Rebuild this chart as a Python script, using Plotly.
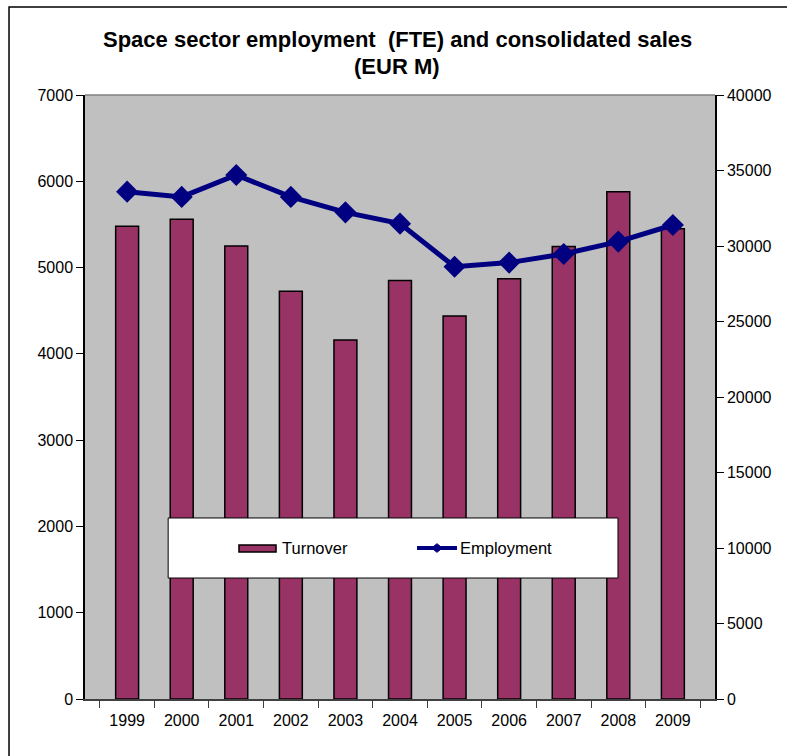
import plotly.graph_objects as go

# Space sector: consolidated sales (EUR M) and employment (FTE), 1999-2009
years = ["1999", "2000", "2001", "2002", "2003", "2004", "2005", "2006", "2007", "2008", "2009"]
turnover = [5480, 5560, 5250, 4725, 4160, 4850, 4440, 4870, 5245, 5880, 5450]
employment = [33600, 33250, 34700, 33250, 32230, 31480, 28630, 28900, 29470, 30290, 31390]

left_ticks = [0, 1000, 2000, 3000, 4000, 5000, 6000, 7000]
right_ticks = [0, 5000, 10000, 15000, 20000, 25000, 30000, 35000, 40000]

title_lines = ["Space sector employment  (FTE) and consolidated sales", "(EUR M)"]
legend_names = ["Turnover", "Employment"]

FONT = "Liberation Sans, Arial, sans-serif"
BAR_COLOR = "#993366"
LINE_COLOR = "#000080"

fig = go.Figure()

fig.add_trace(go.Bar(
    x=years, y=turnover, name=legend_names[0],
    marker=dict(color=BAR_COLOR, line=dict(color="black", width=1.5)),
    yaxis="y",
))

fig.add_trace(go.Scatter(
    x=years, y=employment, name=legend_names[1],
    mode="lines+markers",
    line=dict(color=LINE_COLOR, width=5),
    marker=dict(symbol="diamond", size=17, color=LINE_COLOR),
    yaxis="y2",
))

# outer chart frame
fig.add_shape(type="rect", xref="paper", yref="paper",
              x0=-0.1206, x1=1.3, y0=-0.3, y1=1.1457,
              line=dict(color="black", width=1.5), fillcolor="rgba(0,0,0,0)",
              layer="below")

# top border of the plot area
fig.add_shape(type="line", xref="paper", yref="paper", x0=0, x1=1, y0=1, y1=1,
              line=dict(color="#808080", width=1.5))

# legend: white box with a bar swatch and a line-with-diamond swatch
fig.add_shape(type="rect", xref="paper", yref="paper",
              x0=0.132, x1=0.846, y0=0.2003, y1=0.2997,
              line=dict(color="black", width=1), fillcolor="white",
              layer="above")
fig.add_shape(type="rect", xref="paper", yref="paper",
              x0=0.2444, x1=0.3032, y0=0.2434, y1=0.2550,
              line=dict(color="black", width=1.5), fillcolor=BAR_COLOR,
              layer="above")
fig.add_shape(type="line", xref="paper", yref="paper",
              x0=0.527, x1=0.5905, y0=0.25, y1=0.25,
              line=dict(color=LINE_COLOR, width=4), layer="above")
cx, cy, hx, hy = 0.5587, 0.25, 0.0085, 0.0072
fig.add_shape(type="path", xref="paper", yref="paper",
              path=f"M {cx-hx} {cy} L {cx} {cy+hy} L {cx+hx} {cy} L {cx} {cy-hy} Z",
              line=dict(color=LINE_COLOR, width=1), fillcolor=LINE_COLOR,
              layer="above")
fig.add_annotation(xref="paper", yref="paper", x=0.3095, y=0.25,
                   xanchor="left", yanchor="middle", showarrow=False,
                   text=legend_names[0], font=dict(family=FONT, size=16.5, color="black"))
fig.add_annotation(xref="paper", yref="paper", x=0.592, y=0.25,
                   xanchor="left", yanchor="middle", showarrow=False,
                   text=legend_names[1], font=dict(family=FONT, size=16.5, color="black"))

# two-line bold title
for line_text, ypos in zip(title_lines, [1.0911, 1.0464]):
    fig.add_annotation(xref="paper", yref="paper", x=0.496, y=ypos,
                       xanchor="center", yanchor="middle", showarrow=False,
                       text=f"<b>{line_text}</b>",
                       font=dict(family=FONT, size=22, color="black"))

fig.update_layout(
    width=787, height=756,
    margin=dict(l=85, r=72, t=95, b=57),
    paper_bgcolor="white",
    plot_bgcolor="#C0C0C0",
    font=dict(family=FONT, size=16, color="black"),
    bargap=0.58,
    showlegend=False,
    xaxis=dict(
        type="category", showgrid=False, zeroline=False,
        showline=True, linecolor="#404040", linewidth=2,
        ticks="outside", tickson="boundaries", ticklen=7, tickcolor="#404040",
        tickfont=dict(family=FONT, size=16), ticklabelstandoff=6,
    ),
    yaxis=dict(
        range=[0, 7000], tickvals=left_ticks, tickformat="d",
        showgrid=False, zeroline=False,
        showline=True, linecolor="black", linewidth=1.5,
        ticks="outside", ticklen=7, tickcolor="black",
        tickfont=dict(family=FONT, size=16),
    ),
    yaxis2=dict(
        range=[0, 40000], tickvals=right_ticks, tickformat="d",
        overlaying="y", side="right",
        showgrid=False, zeroline=False,
        showline=True, linecolor="black", linewidth=1.5,
        ticks="outside", ticklen=7, tickcolor="black",
        tickfont=dict(family=FONT, size=16),
    ),
)

fig.write_html("out.html")
